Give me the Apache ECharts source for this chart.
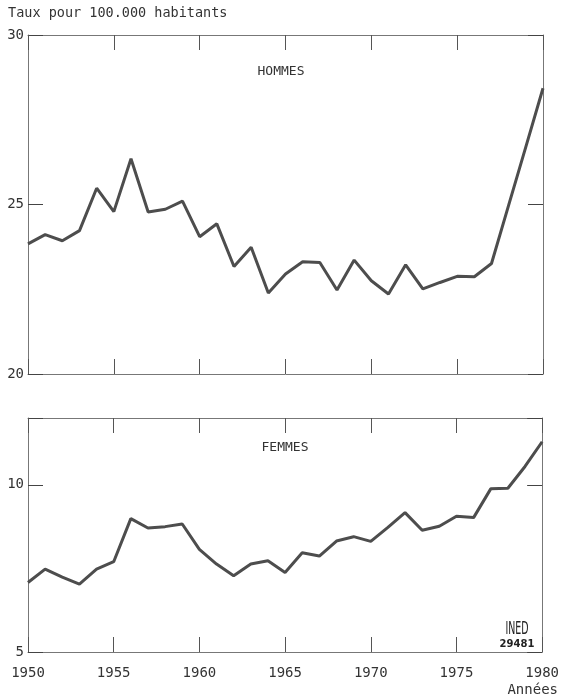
<!DOCTYPE html>
<html>
<head>
<meta charset="utf-8">
<script src="https://cdn.jsdelivr.net/npm/echarts@6/dist/echarts.min.js"></script>
<style>
  html, body { margin: 0; padding: 0; background: #fff; }
  #chart { width: 562px; height: 697px; }
</style>
</head>
<body>
<div id="chart"></div>
<script>
var years = [1950, 1951, 1952, 1953, 1954, 1955, 1956, 1957, 1958, 1959,
  1960, 1961, 1962, 1963, 1964, 1965, 1966, 1967, 1968, 1969,
  1970, 1971, 1972, 1973, 1974, 1975, 1976, 1977, 1978, 1979, 1980];
var hommes = [23.84, 24.11, 23.93, 24.23, 25.48, 24.79, 26.35, 24.78, 24.86, 25.10,
  24.05, 24.43, 23.17, 23.74, 22.39, 22.95, 23.31, 23.29, 22.48, 23.36,
  22.75, 22.36, 23.22, 22.51, 22.70, 22.88, 22.87, 23.26, 24.98, 26.70, 28.43];
var femmes = [7.08, 7.48, 7.24, 7.03, 7.48, 7.70, 8.99, 8.71, 8.75, 8.83,
  8.07, 7.63, 7.28, 7.63, 7.73, 7.38, 7.97, 7.87, 8.32, 8.45,
  8.31, 8.73, 9.17, 8.64, 8.76, 9.06, 9.02, 9.88, 9.90, 10.55, 11.29];
var yearTicks = [1950, 1955, 1960, 1965, 1970, 1975, 1980];

var mono = 'DejaVu Sans Mono';
var ink = '#333';
var frame = '#777';

function xAxisFor(gridIndex, pos, showLabels) {
  return {
    type: 'value', gridIndex: gridIndex, position: pos,
    min: 1950, max: 1980, interval: 5,
    axisLine: { show: true, onZero: false, lineStyle: { color: frame, width: 1 } },
    axisTick: { show: true, inside: true, length: 15, lineStyle: { color: '#555', width: 1 } },
    splitLine: { show: false },
    axisLabel: {
      show: showLabels, color: ink, fontFamily: mono, fontSize: 14, margin: 14,
      formatter: function (v) { return yearTicks.indexOf(v) >= 0 ? String(v) : ''; }
    }
  };
}

function yAxisFor(gridIndex, pos, min, max, showLabels) {
  return {
    type: 'value', gridIndex: gridIndex, position: pos,
    min: min, max: max, interval: 5,
    axisLine: { show: true, onZero: false, lineStyle: { color: frame, width: 1 } },
    axisTick: { show: true, inside: true, length: 15, lineStyle: { color: '#444', width: 1 } },
    splitLine: { show: false },
    axisLabel: {
      show: showLabels, color: ink, fontFamily: mono, fontSize: 14, margin: 4,
      formatter: function (v) { return v % 5 === 0 ? String(v) : ''; }
    }
  };
}

var chart = echarts.init(document.getElementById('chart'));
var option = {
  backgroundColor: '#fff',
  animation: false,
  grid: [
    { left: 28, right: 19, top: 35, height: 339 },
    { left: 28, right: 19, top: 418, height: 234 }
  ],
  xAxis: [
    xAxisFor(0, 'bottom', false),
    xAxisFor(0, 'top', false),
    xAxisFor(1, 'bottom', true),
    xAxisFor(1, 'top', false)
  ],
  yAxis: [
    yAxisFor(0, 'left', 20, 30, true),
    yAxisFor(0, 'right', 20, 30, false),
    yAxisFor(1, 'left', 5, 12, true),
    yAxisFor(1, 'right', 5, 12, false)
  ],
  series: [
    {
      type: 'line', xAxisIndex: 0, yAxisIndex: 0, symbol: 'none',
      lineStyle: { color: '#4d4d4d', width: 3 },
      data: years.map(function (y, i) { return [y, hommes[i]]; })
    },
    {
      type: 'line', xAxisIndex: 2, yAxisIndex: 2, symbol: 'none',
      lineStyle: { color: '#4d4d4d', width: 3 },
      data: years.map(function (y, i) { return [y, femmes[i]]; })
    }
  ],
  graphic: [
    { type: 'text', left: 8, top: 6, style: { text: 'Taux pour 100.000 habitants', fill: ink, font: '13.5px "DejaVu Sans Mono"' } },
    { type: 'text', x: 281, y: 72, style: { text: 'HOMMES', fill: ink, font: '13px "DejaVu Sans Mono"', align: 'center', verticalAlign: 'middle' } },
    { type: 'text', x: 285, y: 448, style: { text: 'FEMMES', fill: ink, font: '13px "DejaVu Sans Mono"', align: 'center', verticalAlign: 'middle' } },
    { type: 'text', x: 517, y: 629, scaleX: 0.75, scaleY: 1.3, style: { text: 'INED', fill: '#222', font: '14px "DejaVu Sans Condensed"', align: 'center', verticalAlign: 'middle' } },
    { type: 'text', x: 517, y: 644, style: { text: '29481', fill: '#222', font: 'bold 10px "DejaVu Sans"', align: 'center', verticalAlign: 'middle' } },
    { type: 'text', x: 558, y: 690, style: { text: 'Années', fill: ink, font: '14px "DejaVu Sans Mono"', align: 'right', verticalAlign: 'middle' } }
  ]
};
chart.setOption(option);
</script>
</body>
</html>
